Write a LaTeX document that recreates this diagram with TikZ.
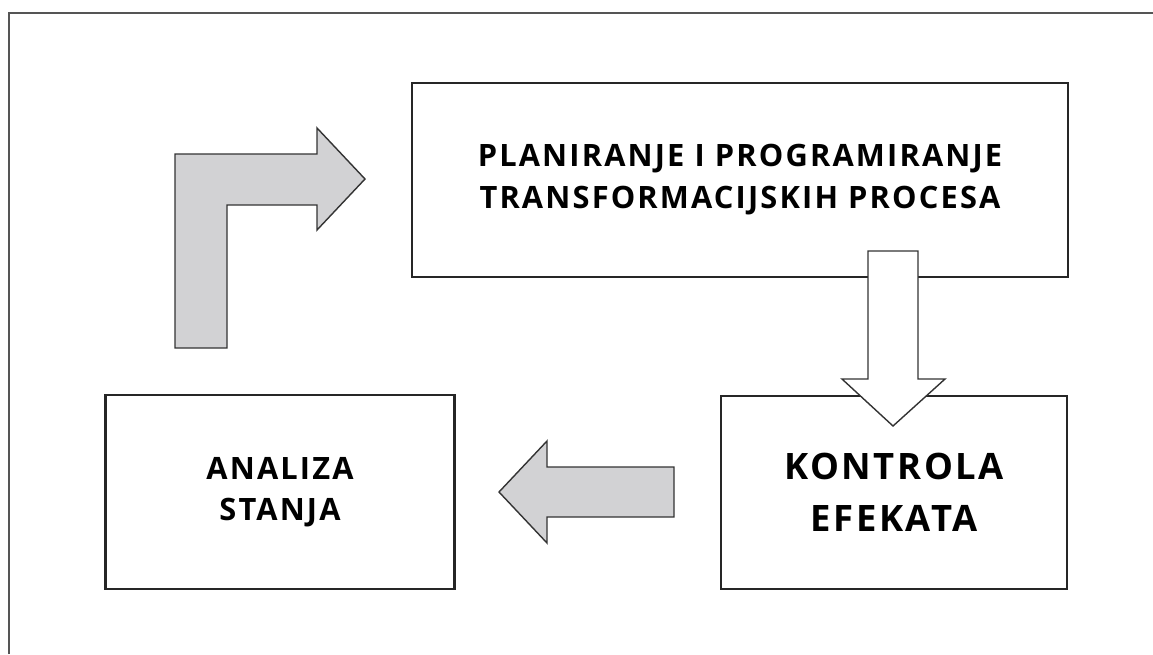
\documentclass[tikz,border=0pt]{standalone}
\usepackage{fontspec}
\setmainfont{Open Sans}
\newfontfamily\boxfont{Open Sans}[LetterSpace=7]
\definecolor{arrgray}{HTML}{D2D2D4}
\definecolor{framegray}{HTML}{555555}
\begin{document}
\begin{tikzpicture}[x=1pt,y=-1pt,line width=2.2pt]
      \tikzstyle{box}=[draw=black!85,rectangle,align=center,inner sep=0pt];
      \tikzstyle{arr}=[draw=black!80,line width=1.4pt,line join=miter];
      \useasboundingbox (0,0) rectangle (1153,654);

      \draw[framegray] (9,654) -- (9,13) -- (1153,13);

      \node[box,minimum width=656pt,minimum height=194pt,
        font=\boxfont\bfseries\fontsize{30.8}{42}\selectfont] (plan) at (740,180)
        {PLANIRANJE I PROGRAMIRANJE\\TRANSFORMACIJSKIH PROCESA};
      \node[box,minimum width=346pt,minimum height=193pt,
        font=\boxfont\bfseries\fontsize{36.4}{52}\selectfont] (kontrola) at (894,492.5)
        {KONTROLA\\EFEKATA};
      \node[box,minimum width=349pt,minimum height=194pt,
        font=\boxfont\bfseries\fontsize{30.8}{41}\selectfont] (analiza) at (280,492)
        {ANALIZA\\STANJA};

      % arrows
      \draw[arr,fill=arrgray]
      (175,348) -- (175,154) -- (317,154) -- (317,128) -- (365,179)
      -- (317,230) -- (317,205) -- (227,205) -- (227,348) -- cycle;

      \draw[arr,fill=white]
      (868,251) -- (918,251) -- (918,379) -- (945,379) -- (893,426)
      -- (842,379) -- (868,379) -- cycle;

      \draw[arr,fill=arrgray]
      (674,467) -- (547,467) -- (547,441) -- (499,492) -- (547,543)
      -- (547,517) -- (674,517) -- cycle;

    \end{tikzpicture}
\end{document}
